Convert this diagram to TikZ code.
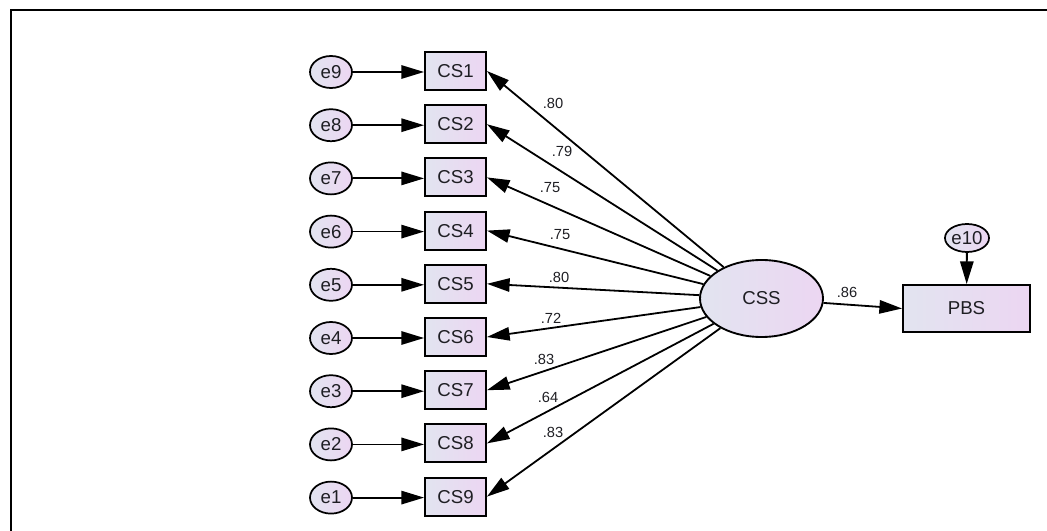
\documentclass[tikz,border=0pt]{standalone}
\usepackage{fontspec}
\setmainfont{Liberation Sans}
\usetikzlibrary{arrows.meta,shapes.geometric}
\definecolor{fillL}{RGB}{226,228,240}
\definecolor{fillR}{RGB}{236,214,242}
\definecolor{txt}{RGB}{30,30,35}
\tikzset{
  obs/.style={draw=black,line width=1.4pt,rectangle,left color=fillL,right color=fillR,
    minimum width=45.75pt,minimum height=28.5pt,inner sep=0pt,text=txt,font=\fontsize{14}{16}\selectfont},
  err/.style={draw=black,line width=1.3pt,ellipse,left color=fillL,right color=fillR,
    minimum width=31.5pt,minimum height=24pt,inner sep=0pt,text=txt,font=\fontsize{14}{16}\selectfont},
  lat/.style={draw=black,line width=1.4pt,ellipse,left color=fillL,right color=fillR,
    minimum width=92.25pt,minimum height=57.75pt,inner sep=0pt,text=txt,font=\fontsize{14}{16}\selectfont},
  arr/.style={draw=black,line width=1.35pt,-{Triangle[length=17pt,width=10pt]}},
  lab/.style={inner sep=0pt,text=txt,font=\fontsize{11}{13}\selectfont},
}
\begin{document}
\begin{tikzpicture}[x=0.75pt,y=-0.75pt]
\useasboundingbox (0,0) rectangle (1047,531);
\draw[line width=2.2pt] (11,531) coordinate (fb) -- (11,10) coordinate (fc) -- (1047,10) coordinate (fr);
% latent and outcome
\node[lat] (css) at (761.5,298.5) {CSS};
\node[obs,minimum width=95.25pt,minimum height=35.25pt] (pbs) at (966.5,308.5) {PBS};
\node[err,minimum width=30pt,minimum height=21pt] (e10) at (967,238) {e10};
\draw[arr] (e10) -- (pbs);
\draw[arr] (css) -- (pbs.west);
\node[lab] (l10) at (847,292) {.86};
% indicators
\foreach \k/\e in {1/9,2/8,3/7,4/6,5/5,6/4,7/3,8/2,9/1}{
  \pgfmathsetmacro{\yy}{71+(\k-1)*53.2}
  \node[obs] (cs\k) at (455.5,\yy) {CS\k};
  \node[err] (e\e) at (331,\yy+1) {e\e};
  \draw[arr] (e\e) -- (cs\k.west|-e\e);
  \draw[arr] (css) -- (cs\k.east);
}
\node[lab] (l1) at (553,103) {.80};
\node[lab] (l2) at (562,151) {.79};
\node[lab] (l3) at (550,188) {.75};
\node[lab] (l4) at (560,235) {.75};
\node[lab] (l5) at (559,277) {.80};
\node[lab] (l6) at (551,318) {.72};
\node[lab] (l7) at (544,359) {.83};
\node[lab] (l8) at (548,397) {.64};
\node[lab] (l9) at (553,432) {.83};
\end{tikzpicture}
\end{document}
